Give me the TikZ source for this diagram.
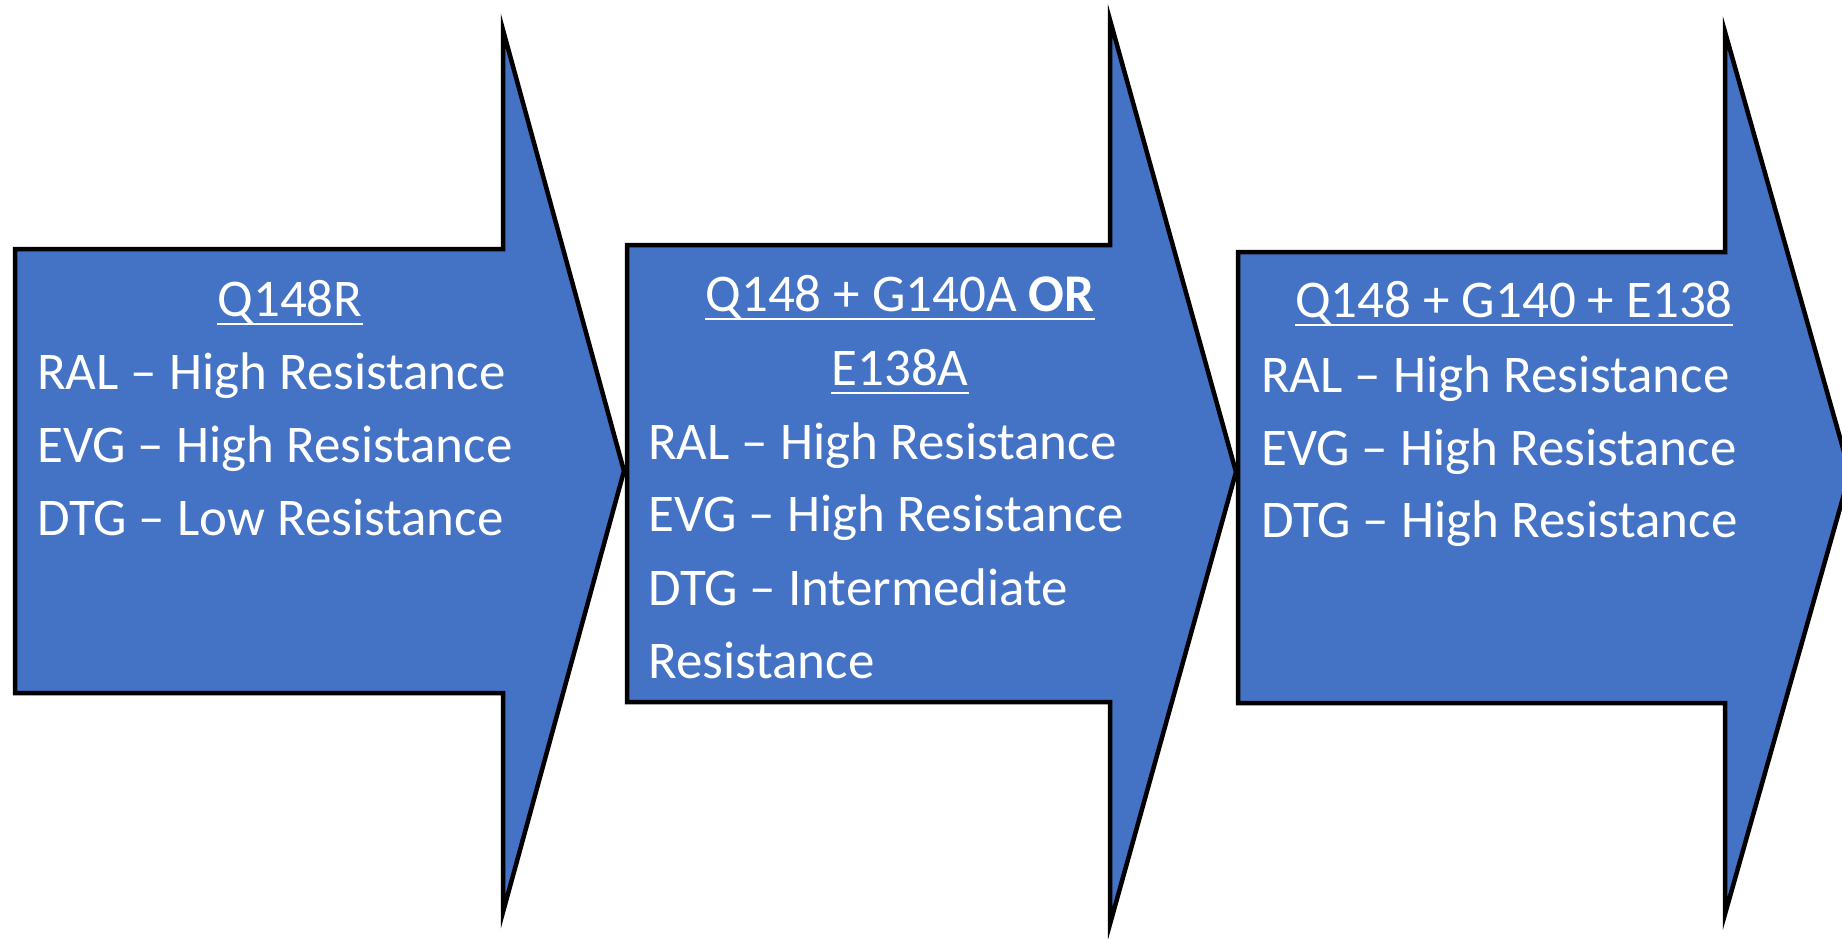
\documentclass[tikz,border=0pt]{standalone}
\usepackage{fontspec}
\setmainfont{Carlito}
\definecolor{arrowblue}{HTML}{4472C4}
\tikzset{
  stage/.style={fill=arrowblue, draw=black, line width=4.5pt},
  txt/.style={text=white, inner sep=0pt, font=\fontsize{53}{73}\selectfont},
  uline/.style={draw=white, line width=2.5pt},
}
\begin{document}
\begin{tikzpicture}[x=1pt, y=-1pt]
\useasboundingbox (0, 0) rectangle (1842, 939);
% the three stage arrows
\filldraw[stage] (15, 249) -- (503, 249) -- (503, 30) -- (624, 471)
      -- (503, 912) -- (503, 693) -- (15, 693) -- cycle;
\filldraw[stage] (627, 245) -- (1110, 245) -- (1110, 20) -- (1236, 472)
      -- (1110, 924) -- (1110, 702) -- (627, 702) -- cycle;
\filldraw[stage] (1238, 252) -- (1725, 252) -- (1725, 32) -- (1850, 473)
      -- (1725, 914) -- (1725, 703) -- (1238, 703) -- cycle;
% stage 1
\path (290, 316) node[txt, anchor=base] (h1) {Q148R}
      (37, 389) node[txt, anchor=base west] (ral1) {RAL -- High Resistance}
      (37, 462) node[txt, anchor=base west] (evg1) {EVG -- High Resistance}
      (37, 535) node[txt, anchor=base west] (dtg1) {DTG -- Low Resistance};
% stage 2
\path (900, 311) node[txt, anchor=base] (h2a) {Q148 + G140A \textbf{OR}}
      (900, 385) node[txt, anchor=base] (h2b) {E138A}
      (648, 459) node[txt, anchor=base west] (ral2) {RAL -- High Resistance}
      (648, 531) node[txt, anchor=base west] (evg2) {EVG -- High Resistance}
      (648, 605) node[txt, anchor=base west] (dtg2) {DTG -- Intermediate}
      (648, 678) node[txt, anchor=base west] (dtg2b) {Resistance};
% stage 3
\path (1514, 317) node[txt, anchor=base] (h3) {Q148 + G140 + E138}
      (1261, 392) node[txt, anchor=base west] (ral3) {RAL -- High Resistance}
      (1261, 465) node[txt, anchor=base west] (evg3) {EVG -- High Resistance}
      (1261, 537) node[txt, anchor=base west] (dtg3) {DTG -- High Resistance};
% underlined headings
\foreach \h in {h1, h2a, h2b, h3}
  \draw[uline] ([yshift=-8pt]\h.base west) -- ([yshift=-8pt]\h.base east);
\end{tikzpicture}
\end{document}
